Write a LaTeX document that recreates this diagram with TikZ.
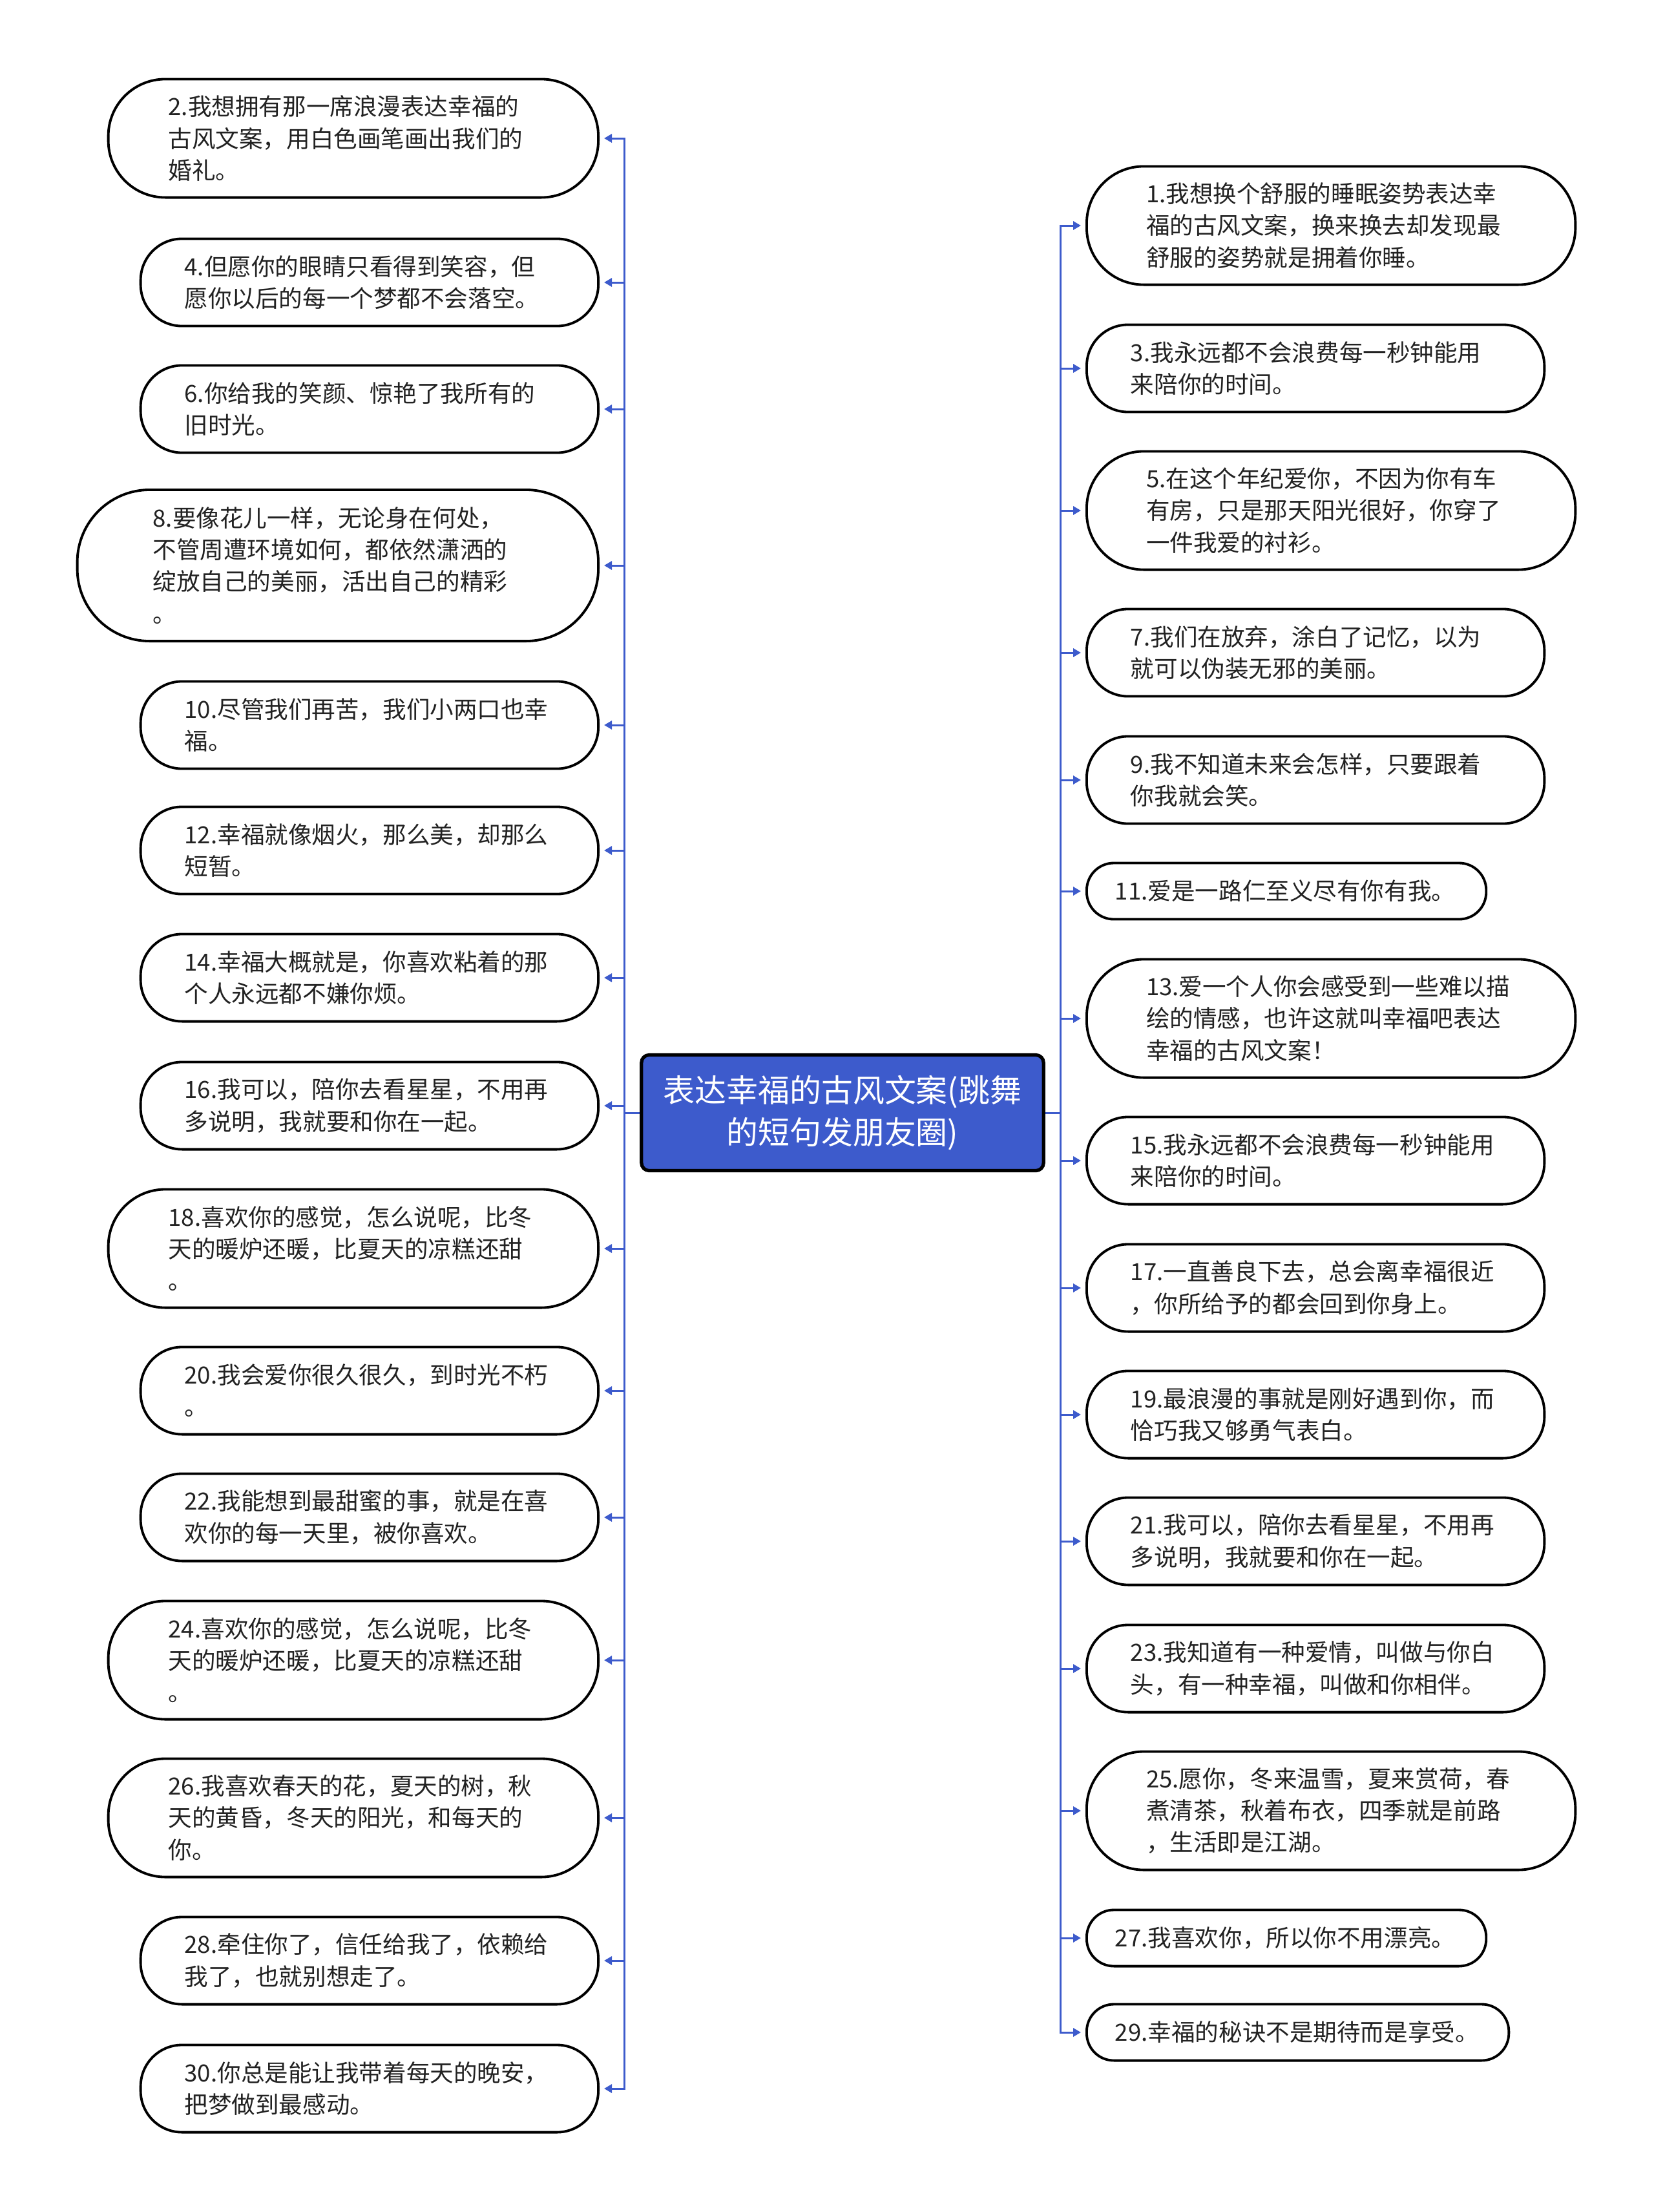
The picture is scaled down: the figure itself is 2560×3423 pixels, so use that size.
\documentclass[tikz,border=0pt]{standalone}
\usepackage{fontspec}
\setmainfont{Noto Sans CJK SC}
\usetikzlibrary{arrows.meta,positioning}
\definecolor{mb}{RGB}{61,91,204}
\definecolor{tc}{RGB}{34,34,34}
\tikzset{nd/.style={draw,line width=1.1pt,fill=white,align=left,text=tc,inner sep=0pt,text width=5.72cm,font=\fontsize{10.4pt}{14pt}\selectfont},
 s1/.style={nd,minimum height=0.87cm,rounded corners=0.42cm},
 s2/.style={nd,minimum height=1.35cm,rounded corners=0.64cm},
 s3/.style={nd,minimum height=1.83cm,rounded corners=0.88cm},
 s4/.style={nd,minimum height=2.34cm,rounded corners=1.12cm},
 lf/.style={anchor=east},rt/.style={anchor=west},
 ctr/.style={draw,line width=1.5pt,fill=mb,text=white,rounded corners=0.12cm,align=center,minimum width=6.22cm,minimum height=1.79cm,font=\fontsize{13.9pt}{18.6pt}\selectfont},
 arr/.style={draw=mb,line width=0.85pt,-{Triangle[length=0.12cm,width=0.13cm]},shorten >=0.07cm}}

\begin{document}
\begin{tikzpicture}[x=0.01cm,y=-0.01cm]
\fill[white] (0,0) rectangle (2560,3423);
\useasboundingbox (0,0) rectangle (2560,3423);
\node[ctr] (c) at (1304,1722) {表达幸福的古风文案(跳舞\\的短句发朋友圈)};
% left side
\node[s3,lf,minimum width=7.58cm] (n2) at (928,214) {2.我想拥有那一席浪漫表达幸福的\\古风文案，用白色画笔画出我们的\\婚礼。};
\node[s2,lf,minimum width=7.08cm] (n4) at (928,437) {4.但愿你的眼睛只看得到笑容，但\\愿你以后的每一个梦都不会落空。};
\node[s2,lf,minimum width=7.08cm] (n6) at (928,633) {6.你给我的笑颜、惊艳了我所有的\\旧时光。};
\node[s4,lf,minimum width=8.06cm] (n8) at (928,875) {8.要像花儿一样，无论身在何处，\\不管周遭环境如何，都依然潇洒的\\绽放自己的美丽，活出自己的精彩\\。};
\node[s2,lf,minimum width=7.08cm] (n10) at (928,1122) {10.尽管我们再苦，我们小两口也幸\\福。};
\node[s2,lf,minimum width=7.08cm] (n12) at (928,1316) {12.幸福就像烟火，那么美，却那么\\短暂。};
\node[s2,lf,minimum width=7.08cm] (n14) at (928,1513) {14.幸福大概就是，你喜欢粘着的那\\个人永远都不嫌你烦。};
\node[s2,lf,minimum width=7.08cm] (n16) at (928,1711) {16.我可以，陪你去看星星，不用再\\多说明，我就要和你在一起。};
\node[s3,lf,minimum width=7.58cm] (n18) at (928,1932) {18.喜欢你的感觉，怎么说呢，比冬\\天的暖炉还暖，比夏天的凉糕还甜\\。};
\node[s2,lf,minimum width=7.08cm] (n20) at (928,2152) {20.我会爱你很久很久，到时光不朽\\。};
\node[s2,lf,minimum width=7.08cm] (n22) at (928,2348) {22.我能想到最甜蜜的事，就是在喜\\欢你的每一天里，被你喜欢。};
\node[s3,lf,minimum width=7.58cm] (n24) at (928,2569) {24.喜欢你的感觉，怎么说呢，比冬\\天的暖炉还暖，比夏天的凉糕还甜\\。};
\node[s3,lf,minimum width=7.58cm] (n26) at (928,2813) {26.我喜欢春天的花，夏天的树，秋\\天的黄昏，冬天的阳光，和每天的\\你。};
\node[s2,lf,minimum width=7.08cm] (n28) at (928,3034) {28.牵住你了，信任给我了，依赖给\\我了，也就别想走了。};
\node[s2,lf,minimum width=7.08cm] (n30) at (928,3232) {30.你总是能让我带着每天的晚安，\\把梦做到最感动。};
% right side
\node[s3,rt,minimum width=7.56cm] (n1) at (1680,349) {1.我想换个舒服的睡眠姿势表达幸\\福的古风文案，换来换去却发现最\\舒服的姿势就是拥着你睡。};
\node[s2,rt,minimum width=7.08cm] (n3) at (1680,570) {3.我永远都不会浪费每一秒钟能用\\来陪你的时间。};
\node[s3,rt,minimum width=7.56cm] (n5) at (1680,790) {5.在这个年纪爱你，不因为你有车\\有房，只是那天阳光很好，你穿了\\一件我爱的衬衫。};
\node[s2,rt,minimum width=7.08cm] (n7) at (1680,1010) {7.我们在放弃，涂白了记忆，以为\\就可以伪装无邪的美丽。};
\node[s2,rt,minimum width=7.08cm] (n9) at (1680,1207) {9.我不知道未来会怎样，只要跟着\\你我就会笑。};
\node[s1,rt,minimum width=6.18cm,text width=5.3cm] (n11) at (1680,1379) {11.爱是一路仁至义尽有你有我。};
\node[s3,rt,minimum width=7.56cm] (n13) at (1680,1576) {13.爱一个人你会感受到一些难以描\\绘的情感，也许这就叫幸福吧表达\\幸福的古风文案！};
\node[s2,rt,minimum width=7.08cm] (n15) at (1680,1796) {15.我永远都不会浪费每一秒钟能用\\来陪你的时间。};
\node[s2,rt,minimum width=7.08cm] (n17) at (1680,1993) {17.一直善良下去，总会离幸福很近\\，你所给予的都会回到你身上。};
\node[s2,rt,minimum width=7.08cm] (n19) at (1680,2189) {19.最浪漫的事就是刚好遇到你，而\\恰巧我又够勇气表白。};
\node[s2,rt,minimum width=7.08cm] (n21) at (1680,2385) {21.我可以，陪你去看星星，不用再\\多说明，我就要和你在一起。};
\node[s2,rt,minimum width=7.08cm] (n23) at (1680,2582) {23.我知道有一种爱情，叫做与你白\\头，有一种幸福，叫做和你相伴。};
\node[s3,rt,minimum width=7.56cm] (n25) at (1680,2802) {25.愿你，冬来温雪，夏来赏荷，春\\煮清茶，秋着布衣，四季就是前路\\，生活即是江湖。};
\node[s1,rt,minimum width=6.18cm,text width=5.3cm] (n27) at (1680,2999) {27.我喜欢你，所以你不用漂亮。};
\node[s1,rt,minimum width=6.53cm,text width=5.65cm] (n29) at (1680,3145) {29.幸福的秘诀不是期待而是享受。};
% connectors
\draw[arr] (c.west) -- ++(-24,0) |- (n2.east);\draw[arr] (c.west) -- ++(-24,0) |- (n4.east);
\draw[arr] (c.west) -- ++(-24,0) |- (n6.east);\draw[arr] (c.west) -- ++(-24,0) |- (n8.east);
\draw[arr] (c.west) -- ++(-24,0) |- (n10.east);\draw[arr] (c.west) -- ++(-24,0) |- (n12.east);
\draw[arr] (c.west) -- ++(-24,0) |- (n14.east);\draw[arr] (c.west) -- ++(-24,0) |- (n16.east);
\draw[arr] (c.west) -- ++(-24,0) |- (n18.east);\draw[arr] (c.west) -- ++(-24,0) |- (n20.east);
\draw[arr] (c.west) -- ++(-24,0) |- (n22.east);\draw[arr] (c.west) -- ++(-24,0) |- (n24.east);
\draw[arr] (c.west) -- ++(-24,0) |- (n26.east);\draw[arr] (c.west) -- ++(-24,0) |- (n28.east);
\draw[arr] (c.west) -- ++(-24,0) |- (n30.east);
\draw[arr] (c.east) -- ++(24,0) |- (n1.west);\draw[arr] (c.east) -- ++(24,0) |- (n3.west);
\draw[arr] (c.east) -- ++(24,0) |- (n5.west);\draw[arr] (c.east) -- ++(24,0) |- (n7.west);
\draw[arr] (c.east) -- ++(24,0) |- (n9.west);\draw[arr] (c.east) -- ++(24,0) |- (n11.west);
\draw[arr] (c.east) -- ++(24,0) |- (n13.west);\draw[arr] (c.east) -- ++(24,0) |- (n15.west);
\draw[arr] (c.east) -- ++(24,0) |- (n17.west);\draw[arr] (c.east) -- ++(24,0) |- (n19.west);
\draw[arr] (c.east) -- ++(24,0) |- (n21.west);\draw[arr] (c.east) -- ++(24,0) |- (n23.west);
\draw[arr] (c.east) -- ++(24,0) |- (n25.west);\draw[arr] (c.east) -- ++(24,0) |- (n27.west);
\draw[arr] (c.east) -- ++(24,0) |- (n29.west);
\end{tikzpicture}
\end{document}
